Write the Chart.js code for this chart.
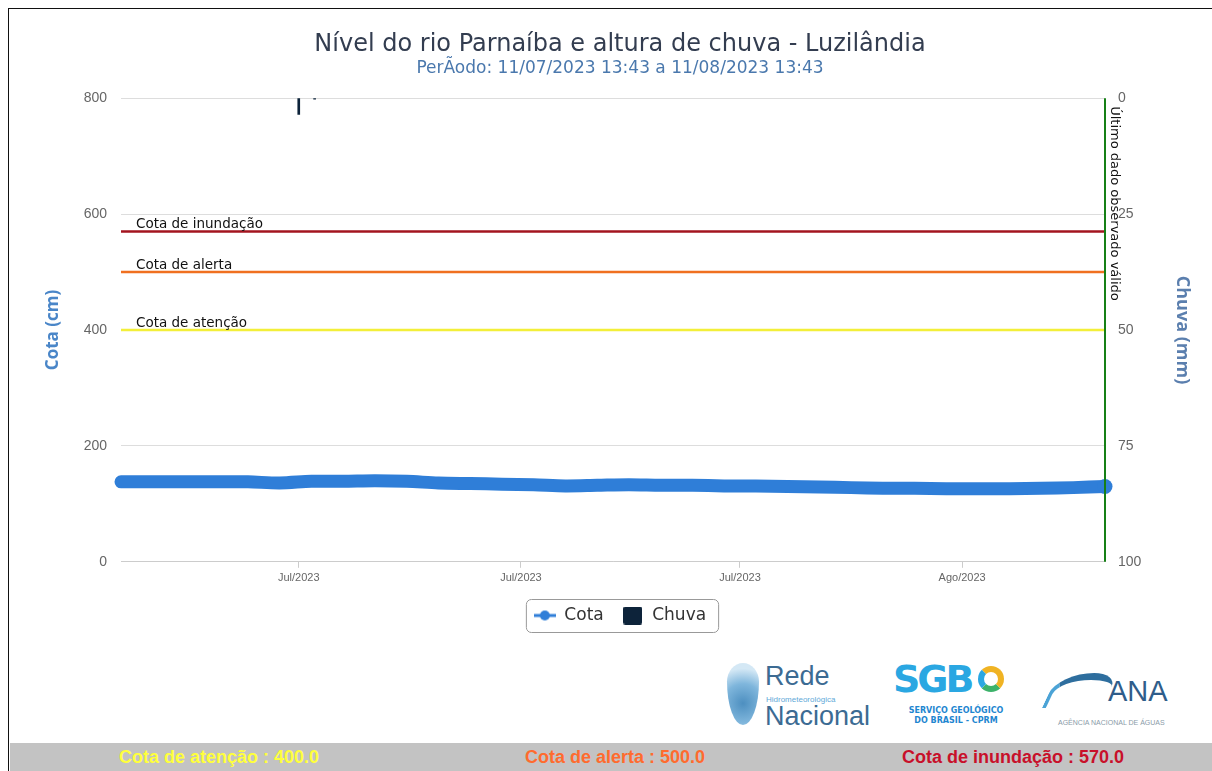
<!DOCTYPE html>
<html>
<head>
  <title>Nível do rio Parnaíba e altura de chuva - Luzilândia</title>
  <script src="https://cdn.jsdelivr.net/npm/chart.js"></script>
  <style>
    body {
      margin: 0;
      background: #fff;
      width: 1212px;
      height: 771px;
      overflow: hidden;
      position: relative;
      font-family: 'DejaVu Sans', sans-serif;
    }

    .frame {
      position: absolute;
      left: 8px;
      top: 8px;
      right: 0;
      bottom: 0;
      border-left: 1px solid #111;
      border-top: 1px solid #111;
    }

    #chart {
      position: absolute;
      left: 0;
      top: 0;
    }

    .logo {
      position: absolute;
      top: 655px;
      height: 82px;
    }

    .gota {
      position: absolute;
      left: 2px;
      top: 8px;
      width: 32px;
      height: 62px;
      border-radius: 50% 50% 50% 50% / 30% 30% 70% 70%;
      background: radial-gradient(circle at 50% 65%, #4d8fc0 0, #7fb6dc 45%, #d4e8f5 80%);
    }

    .rede1, .rede3 {
      position: absolute;
      left: 40px;
      font-family: 'Liberation Sans Narrow', sans-serif;
      color: #3c6b93;
      font-size: 27px;
    }

    .rede1 { top: 6px; }
    .rede3 { top: 46px; }

    .rede2 {
      position: absolute;
      left: 41px;
      top: 40px;
      font-family: 'Liberation Sans Narrow', sans-serif;
      font-size: 8px;
      color: #5fa9d8;
    }

    .sgb {
      position: absolute;
      left: 2px;
      top: 2px;
      font-family: 'DejaVu Sans', sans-serif;
      font-weight: bold;
      font-size: 38px;
      letter-spacing: -3px;
      color: #2aa7e2;
    }

    .sgb small {
      display: inline-block;
      width: 26px;
      height: 26px;
      margin-left: 6px;
      border: 6px solid #f0b323;
      border-left-color: #2aa7e2;
      border-bottom-color: #3cb26a;
      border-radius: 50%;
      box-sizing: border-box;
    }

    .sgb2 {
      position: absolute;
      left: 0;
      top: 51px;
      width: 130px;
      text-align: center;
      font-family: 'DejaVu Sans', sans-serif;
      font-weight: bold;
      font-size: 8px;
      line-height: 10px;
      color: #1e86d0;
    }

    .onda {
      position: absolute;
      left: 0;
      top: 18px;
      width: 56px;
      height: 28px;
      border-radius: 60% 40% 0 0;
      border-top: 7px solid #2e6e9e;
      border-left: 4px solid #4ba3d6;
      transform: skewX(-25deg);
    }

    .ana {
      position: absolute;
      left: 58px;
      top: 20px;
      font-family: 'Liberation Sans', sans-serif;
      font-size: 29px;
      color: #2f5d8a;
    }

    .ana2 {
      position: absolute;
      left: 8px;
      top: 64px;
      font-family: 'Liberation Sans Narrow', sans-serif;
      font-size: 7px;
      color: #8a9ba8;
      white-space: nowrap;
    }

    .cotas {
      position: absolute;
      left: 10px;
      right: 0;
      top: 743px;
      height: 28px;
      background: #c3c3c3;
      font-family: 'Liberation Sans Narrow', sans-serif;
      font-weight: bold;
      font-size: 18px;
      line-height: 28px;
    }

    .cotas span {
      position: absolute;
      top: 0;
      transform: translateX(-50%);
      white-space: nowrap;
    }
  </style>
</head>
<body>
  <div class="frame"></div>
  <canvas id="chart" width="1212" height="650"></canvas>

  <div class="logo" style="left:725px;width:145px">
    <div class="gota"></div>
    <div class="rede1">Rede</div>
    <div class="rede2">Hidrometeorológica</div>
    <div class="rede3">Nacional</div>
  </div>
  <div class="logo" style="left:891px;width:132px">
    <div class="sgb">SGB<small></small></div>
    <div class="sgb2">SERVIÇO GEOLÓGICO<br>DO BRASIL - CPRM</div>
  </div>
  <div class="logo" style="left:1050px;width:150px">
    <div class="onda"></div>
    <div class="ana">ANA</div>
    <div class="ana2">AGÊNCIA NACIONAL DE ÁGUAS</div>
  </div>

  <div class="cotas">
    <span style="left:209px;color:#ffff3c">Cota de atenção : 400.0</span>
    <span style="left:605px;color:#ff6b2e">Cota de alerta : 500.0</span>
    <span style="left:1003px;color:#c8102a">Cota de inundação : 570.0</span>
  </div>

  <script>
    // dias desde 11/07/2023 13:43
    const dias = [0, 1, 2, 3, 4, 5, 6, 7, 8, 9, 10, 11, 12, 13, 14, 15,
                  16, 17, 18, 19, 20, 21, 22, 23, 24, 25, 26, 27, 28, 29, 30, 31];
    const cota = [138, 138, 138, 138, 138, 136, 139, 139, 140, 139, 136, 135, 134, 133, 131, 132,
                  133, 132, 132, 131, 131, 130, 129, 128, 127, 127, 126, 126, 126, 127, 128, 130];

    const chuvaDias = [5.6, 6.1];
    const chuva = [3.5, 0.2];

    const tickDias = [5.6, 12.6, 19.5, 26.5];
    const tickLabels = ['Jul/2023', 'Jul/2023', 'Jul/2023', 'Ago/2023'];

    const limiteNomes = ['Cota de inundação', 'Cota de alerta', 'Cota de atenção'];
    const limiteValores = [570, 500, 400];
    const limiteCores = ['#a3141f', '#f07020', '#f3ef3a'];

    const azul = '#2f7ed8';
    const escuro = '#0d233a';

    // icones da legenda
    const iconCota = document.createElement('canvas');
    iconCota.width = 22; iconCota.height = 12;
    let c = iconCota.getContext('2d');
    c.strokeStyle = azul; c.lineWidth = 3;
    c.beginPath(); c.moveTo(0, 6); c.lineTo(22, 6); c.stroke();
    c.fillStyle = azul;
    c.beginPath(); c.arc(11, 6, 5, 0, Math.PI * 2); c.fill();

    const iconChuva = document.createElement('canvas');
    iconChuva.width = 19; iconChuva.height = 18;
    c = iconChuva.getContext('2d');
    c.fillStyle = escuro;
    c.beginPath(); c.roundRect(0, 0, 19, 18, 2); c.fill();

    const marcas = {
      id: 'marcas',
      afterDatasetsDraw(chart) {
        const { ctx, chartArea: a, scales: { x, y } } = chart;
        ctx.save();
        limiteValores.forEach((v, i) => {
          const py = y.getPixelForValue(v);
          ctx.strokeStyle = limiteCores[i];
          ctx.lineWidth = 2.5;
          ctx.beginPath(); ctx.moveTo(a.left, py); ctx.lineTo(a.right, py); ctx.stroke();
          ctx.fillStyle = '#111';
          ctx.font = '13.5px "DejaVu Sans"';
          ctx.fillText(limiteNomes[i], a.left + 15, py - 7);
        });
        const gx = x.getPixelForValue(dias[dias.length - 1]);
        ctx.strokeStyle = '#168016';
        ctx.lineWidth = 2;
        ctx.beginPath(); ctx.moveTo(gx, a.top); ctx.lineTo(gx, a.bottom); ctx.stroke();
        ctx.translate(gx + 6, a.top + 8);
        ctx.rotate(Math.PI / 2);
        ctx.fillStyle = '#111';
        ctx.font = '13px "DejaVu Sans"';
        ctx.textBaseline = 'alphabetic';
        ctx.fillText('Último dado observado válido', 0, 0);
        ctx.restore();
      },
      afterDraw(chart) {
        const boxes = chart.legend.legendHitBoxes;
        if (!boxes || !boxes.length) return;
        const l = Math.min(...boxes.map(b => b.left)) - 8;
        const r = Math.max(...boxes.map(b => b.left + b.width)) + 12;
        const t = Math.min(...boxes.map(b => b.top)) - 8;
        const bt = Math.max(...boxes.map(b => b.top + b.height)) + 8;
        const ctx = chart.ctx;
        ctx.save();
        ctx.strokeStyle = '#999';
        ctx.lineWidth = 1;
        ctx.beginPath(); ctx.roundRect(l + 0.5, t + 0.5, r - l, bt - t, 5); ctx.stroke();
        ctx.restore();
      }
    };

    new Chart(document.getElementById('chart'), {
      type: 'line',
      data: {
        datasets: [{
          label: 'Cota',
          data: dias.map((d, i) => ({ x: d, y: cota[i] })),
          borderColor: azul,
          backgroundColor: azul,
          borderWidth: 13,
          borderCapStyle: 'round',
          borderJoinStyle: 'round',
          pointRadius: dias.map((d, i) => i === dias.length - 1 ? 7.5 : 0),
          pointBorderWidth: 0,
          tension: 0.3,
          clip: 10,
          yAxisID: 'y',
          order: 2
        }, {
          type: 'bar',
          label: 'Chuva',
          data: chuvaDias.map((d, i) => ({ x: d, y: chuva[i] })),
          backgroundColor: escuro,
          barThickness: 2,
          yAxisID: 'y2',
          order: 1
        }]
      },
      options: {
        responsive: false,
        animation: false,
        layout: { padding: { left: 36, right: 8, top: 0, bottom: 16 } },
        plugins: {
          title: {
            display: true,
            text: 'Nível do rio Parnaíba e altura de chuva - Luzilândia',
            color: '#333d50',
            font: { family: 'DejaVu Sans', size: 24, weight: 'normal' },
            padding: { top: 30, bottom: 0 }
          },
          subtitle: {
            display: true,
            text: 'PerÃodo: 11/07/2023 13:43 a 11/08/2023 13:43',
            color: '#4a78ad',
            font: { family: 'DejaVu Sans', size: 17 },
            padding: { top: 0, bottom: 19 }
          },
          legend: {
            position: 'bottom',
            labels: {
              usePointStyle: true,
              pointStyleWidth: 22,
              padding: 18,
              color: '#333',
              font: { family: 'DejaVu Sans', size: 17 },
              generateLabels: chart => chart.data.datasets.map((ds, i) => ({
                text: ds.label,
                pointStyle: i === 0 ? iconCota : iconChuva,
                fontColor: '#333',
                datasetIndex: i,
                lineWidth: 0
              }))
            }
          },
          tooltip: { enabled: false }
        },
        scales: {
          x: {
            type: 'linear',
            offset: false,
            min: dias[0],
            max: dias[dias.length - 1],
            afterBuildTicks: s => { s.ticks = tickDias.map(v => ({ value: v })); },
            ticks: {
              autoSkip: false,
              maxRotation: 0,
              color: '#666',
              font: { family: 'Liberation Sans', size: 11 },
              padding: 4,
              callback: (v, i) => tickLabels[i]
            },
            grid: { offset: false, drawOnChartArea: false, drawTicks: true, tickLength: 6, color: '#ccc' },
            border: { color: '#ccc' }
          },
          y: {
            position: 'left',
            min: 0,
            max: 800,
            ticks: {
              stepSize: 200,
              color: '#666',
              padding: 14,
              font: { family: 'Liberation Sans', size: 14 }
            },
            grid: { color: '#ddd', drawTicks: false },
            border: { display: false },
            title: {
              display: true,
              text: 'Cota (cm)',
              color: '#4a86c8',
              font: { family: 'Open Sans', size: 17, weight: 'bold' },
              padding: { top: 7, bottom: 0 }
            },
            afterFit: s => { s.width = 85; }
          },
          y2: {
            position: 'right',
            reverse: true,
            min: 0,
            max: 100,
            ticks: {
              stepSize: 25,
              color: '#666',
              padding: 13,
              font: { family: 'Liberation Sans', size: 14 }
            },
            grid: { display: false, drawTicks: false },
            border: { display: false },
            title: {
              display: true,
              text: 'Chuva (mm)',
              color: '#5b7fae',
              font: { family: 'Open Sans', size: 18, weight: 'bold' },
              padding: { top: 11, bottom: 0 }
            },
            afterFit: s => { s.width = 99; }
          }
        }
      },
      plugins: [marcas]
    });
  </script>
</body>
</html>
